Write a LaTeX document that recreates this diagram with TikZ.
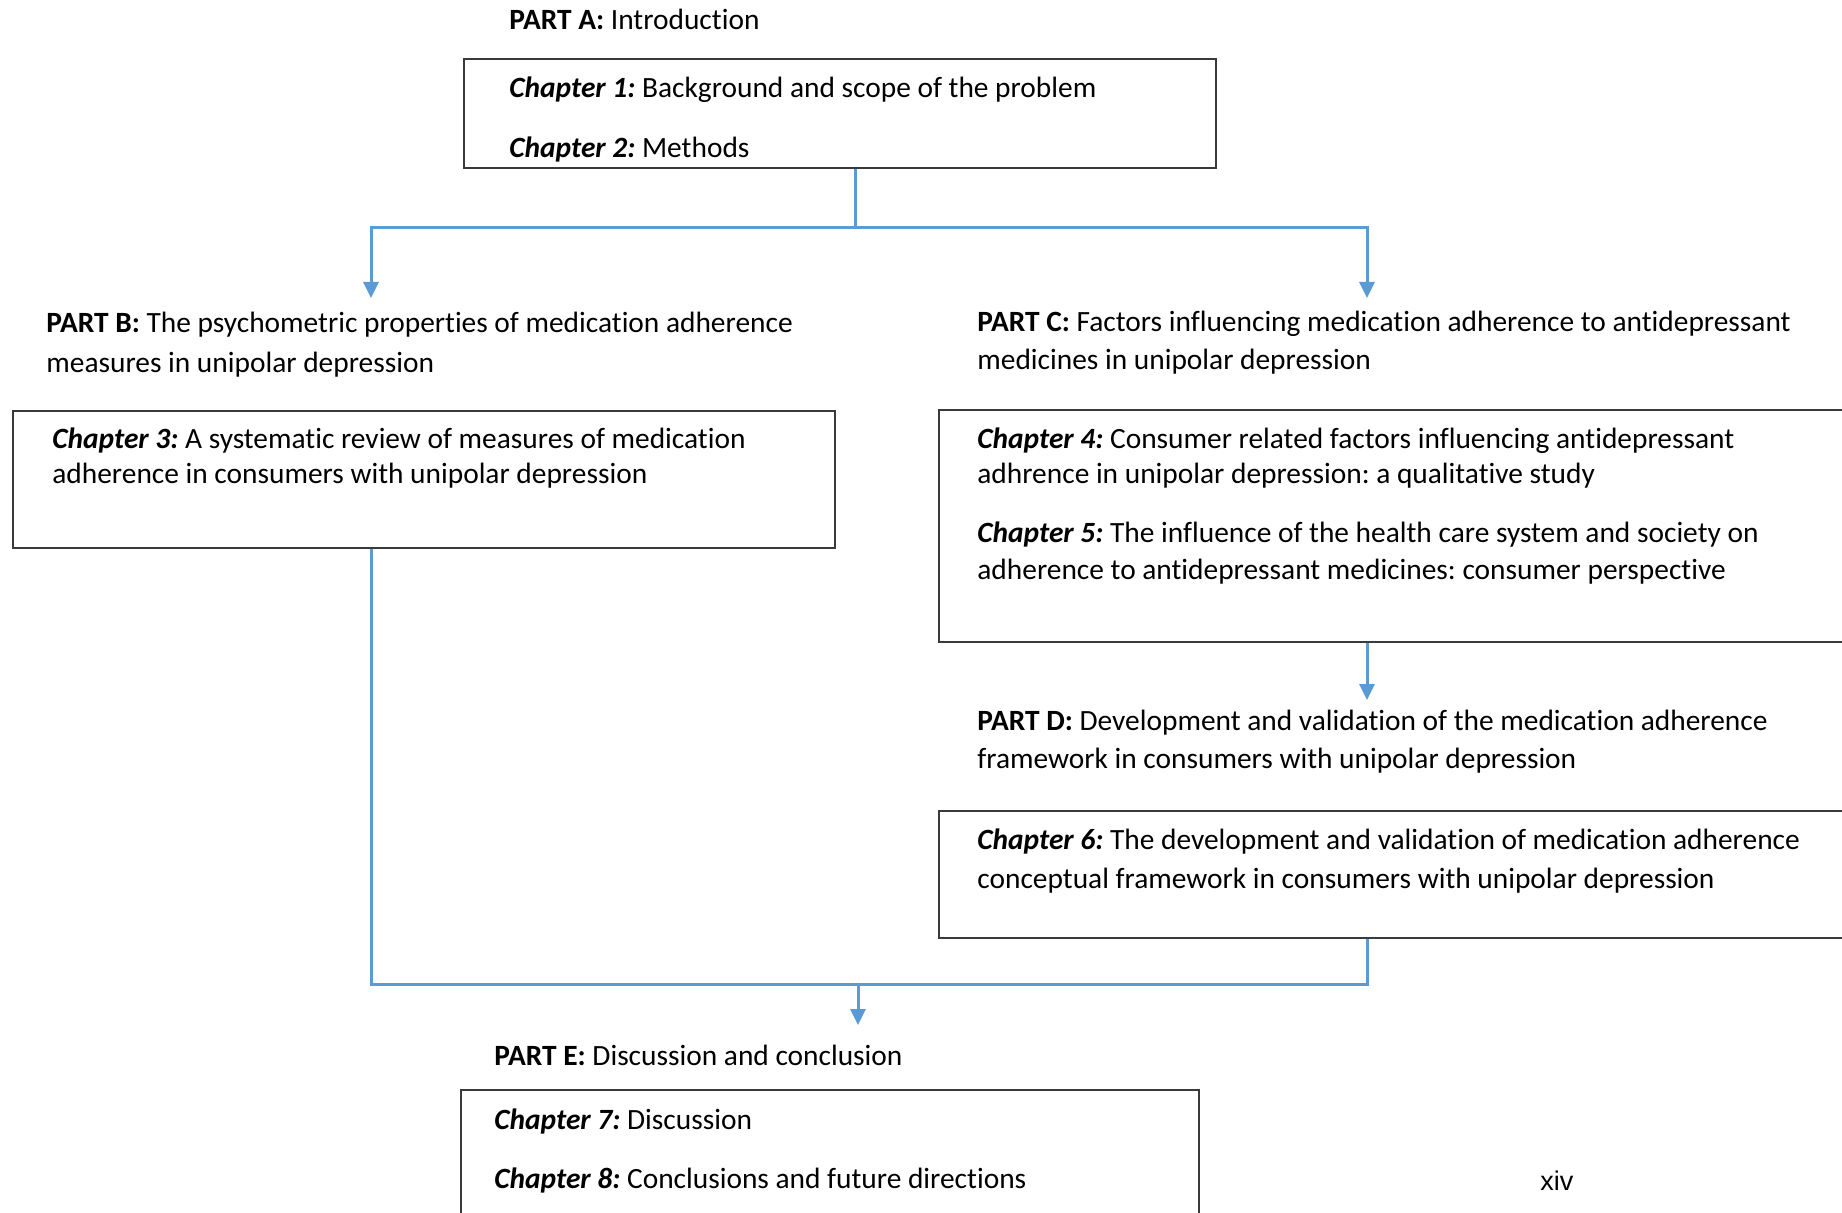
\documentclass[tikz,border=0pt]{standalone}
\usepackage{fontspec}
\setmainfont{Carlito}[RawFeature=-liga]
\newfontfamily\pagefont{Liberation Sans}
\usetikzlibrary{arrows.meta,fit}
\definecolor{linkblue}{HTML}{5B9BD5}
\definecolor{boxgray}{HTML}{3A3A3A}
\newcommand{\chap}[1]{\textbf{\textit{#1}}}
\frenchspacing
\begin{document}
\begin{tikzpicture}[x=0.5pt,y=-0.5pt,
  txt/.style={anchor=base west, inner sep=0pt, font=\fontsize{14.7}{18}\selectfont},
  box/.style={draw=boxgray, line width=0.9pt, inner sep=0pt},
  conn/.style={draw=linkblue, line width=1.5pt},
  arr/.style={-{Triangle[length=8pt,width=7.5pt]}}]
\useasboundingbox (0,0) rectangle (1842,1213);
\clip (0,0) rectangle (1842,1213);
\fill[white] (0,0) rectangle (1842,1213);

% boxes
\node[box, fit={(464,59) (1216,168)}] (box1) {};
\node[box, fit={(13,411) (835,548)}] (box3) {};
\node[box, fit={(939,410) (1870,642)}] (boxC) {};
\node[box, fit={(939,811) (1870,938)}] (box6) {};
\node[box, fit={(461,1090) (1199,1240)}] (box7) {};

% texts
\node[txt] (pa) at (509,30) {\textbf{PART A:} Introduction};
\node[txt] (c1) at (509,98) {\chap{Chapter 1:} Background and scope of the problem};
\node[txt] (c2) at (509,158) {\chap{Chapter 2:} Methods};

\node[txt] (pb1) at (46,333) {\textbf{PART B:} The psychometric properties of medication adherence};
\node[txt] (pb2) at (46,373) {measures in unipolar depression};

\node[txt] (pc1) at (977,332) {\textbf{PART C:} Factors influencing medication adherence to antidepressant};
\node[txt] (pc2) at (977,370) {medicines in unipolar depression};

\node[txt] (c3a) at (52,449) {\chap{Chapter 3:} A systematic review of measures of medication};
\node[txt] (c3b) at (52,484) {adherence in consumers with unipolar depression};

\node[txt] (c4a) at (977,449) {\chap{Chapter 4:} Consumer related factors influencing antidepressant};
\node[txt] (c4b) at (977,484) {adhrence in unipolar depression: a qualitative study};
\node[txt] (c5a) at (977,543) {\chap{Chapter 5:} The influence of the health care system and society on};
\node[txt] (c5b) at (977,580) {adherence to antidepressant medicines: consumer perspective};

\node[txt] (pd1) at (977,730) {\textbf{PART D:} Development and validation of the medication adherence};
\node[txt] (pd2) at (977,768) {framework in consumers with unipolar depression};

\node[txt] (c6a) at (977,849) {\chap{Chapter 6:} The development and validation of medication adherence};
\node[txt] (c6b) at (977,888) {conceptual framework in consumers with unipolar depression};

\node[txt] (pe) at (494,1065) {\textbf{PART E:} Discussion and conclusion};
\node[txt] (c7) at (494,1129) {\chap{Chapter 7:} Discussion};
\node[txt] (c8) at (494,1188) {\chap{Chapter 8:} Conclusions and future directions};

\node[anchor=base west, inner sep=0pt, font=\pagefont\fontsize{13.5}{16}\selectfont] (pg) at (1540,1190) {xiv};

% connectors
\coordinate (j1) at (855,228);
\coordinate (tipB) at (371,298);
\coordinate (tipC) at (1367,298);
\coordinate (tipD) at (1367,700);
\coordinate (j2) at (858,984);
\coordinate (jr2) at (1367,984);
\coordinate (tipE) at (858,1025);

\draw[conn] (box1.south -| j1) -- (j1);
\draw[conn, arr] (j1) -| (tipB);
\draw[conn, arr] (j1) -| (tipC);
\draw[conn, arr] (boxC.south -| tipC) -- (tipD);
\draw[conn] (box3.south -| tipB) |- (jr2) -- (box6.south -| jr2);
\draw[conn, arr] (j2) -- (tipE);
\end{tikzpicture}
\end{document}
